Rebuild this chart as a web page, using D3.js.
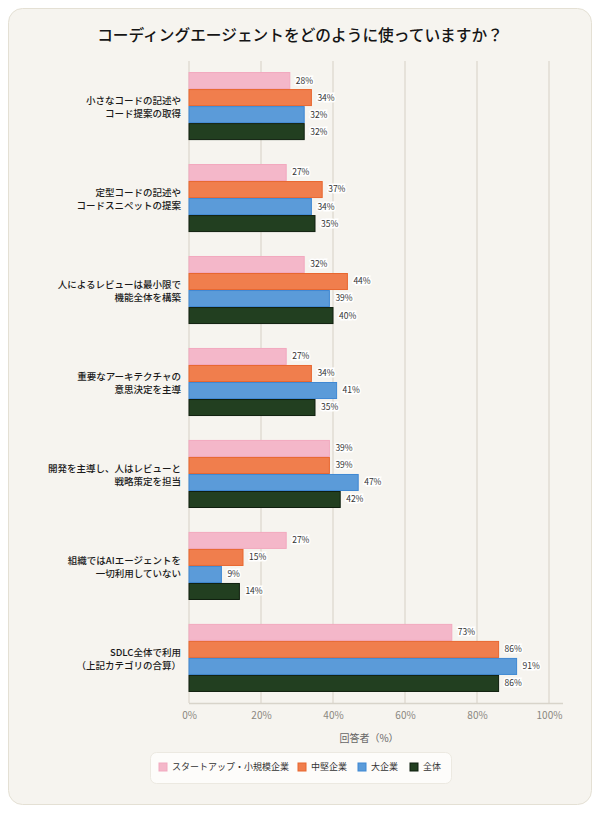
<!DOCTYPE html>
<html><head><meta charset="utf-8">
<script src="https://cdn.jsdelivr.net/npm/d3@7/dist/d3.min.js"></script>
<style>
html,body{margin:0;padding:0;background:#fff;}
svg{display:block;font-family:"Noto Sans CJK JP","Noto Sans",sans-serif;}
</style></head>
<body>
<script>
const categories = [
  ["小さなコードの記述や","コード提案の取得"],
  ["定型コードの記述や","コードスニペットの提案"],
  ["人によるレビューは最小限で","機能全体を構築"],
  ["重要なアーキテクチャの","意思決定を主導"],
  ["開発を主導し、人はレビューと","戦略策定を担当"],
  ["組織ではAIエージェントを","一切利用していない"],
  ["SDLC全体で利用","（上記カテゴリの合算）"]
];
const seriesNames = ["スタートアップ・小規模企業","中堅企業","大企業","全体"];
const startup = [28,27,32,27,39,27,73];
const midsize = [34,37,44,34,39,15,86];
const large = [32,34,39,41,47,9,91];
const overall = [32,35,40,35,42,14,86];
const xTicks = [0,20,40,60,80,100];
const title = "コーディングエージェントをどのように使っていますか？";
const xTitle = "回答者（%）";

const series = [startup, midsize, large, overall];
const fills = ["#f4b7c9","#f07e4d","#5b9bd9","#223f20"];
const strokes = ["#f2a9bf","#e8672f","#3f88d3","#0f1f0e"];

const W = 600, H = 813;
const svg = d3.select("body").append("svg").attr("width",W).attr("height",H);

svg.append("rect").attr("x",8.5).attr("y",8.5).attr("width",583).attr("height",796)
  .attr("rx",14).attr("fill","#f6f4ef").attr("stroke","#e4e0d4");

svg.append("text").attr("x",300).attr("y",41).attr("text-anchor","middle")
  .attr("font-size",15.7).attr("font-weight",500).attr("fill","#151515").text(title);

const x = d3.scaleLinear().domain([0,100]).range([189,549]);
const y = d3.scaleBand().domain(d3.range(categories.length)).range([61,703])
  .paddingInner(0.26).paddingOuter(0.12);
const yi = d3.scaleBand().domain(d3.range(series.length)).range([0,y.bandwidth()]);

// grid
svg.append("g").selectAll("line").data(xTicks).join("line")
  .attr("x1",d=>x(d)).attr("x2",d=>x(d)).attr("y1",61).attr("y2",703)
  .attr("stroke","#e0ddd3").attr("stroke-width",1.5);

// axis
const xAxis = d3.axisBottom(x).tickValues(xTicks).tickSize(0).tickPadding(9).tickFormat(d=>d+"%");
const ax = svg.append("g").attr("transform","translate(0,703)").call(xAxis);
ax.select(".domain").remove();
ax.selectAll("text").attr("font-size",10).attr("fill","#8a8780").attr("font-family","'Noto Sans CJK JP',sans-serif");
svg.append("line").attr("x1",189).attr("x2",563).attr("y1",703.5).attr("y2",703.5).attr("stroke","#d8d4ca").attr("stroke-width",1.5);

svg.append("text").attr("x",369).attr("y",742).attr("text-anchor","middle")
  .attr("font-size",10).attr("fill","#666").text(xTitle);

// bars
const groups = svg.append("g").selectAll("g").data(categories).join("g")
  .attr("transform",(d,i)=>`translate(0,${y(i)})`);
groups.each(function(c,ci){
  const g = d3.select(this);
  series.forEach((s,si)=>{
    g.append("rect").attr("x",x(0)).attr("y",yi(si)+0.5)
      .attr("width",x(s[ci])-x(0)).attr("height",yi.bandwidth()-1)
      .attr("fill",fills[si]).attr("stroke",strokes[si]).attr("stroke-width",1);
    g.append("text").attr("x",x(s[ci])+6).attr("y",yi(si)+yi.bandwidth()/2)
      .attr("dy","0.35em").attr("font-size",8.5).attr("fill","#333")
      .attr("stroke","#fff").attr("stroke-width",3).attr("paint-order","stroke")
      .text(s[ci]+"%");
  });
  const t = g.append("text").attr("text-anchor","end").attr("font-size",9.5)
    .attr("font-weight",500).attr("fill","#1a1a1a");
  c.forEach((line,li)=>{
    t.append("tspan").attr("x",181).attr("y",y.bandwidth()/2 + (li-0.5)*13.6 + 4.5).text(line);
  });
});

// legend
const lg = svg.append("g");
lg.append("rect").attr("x",150.5).attr("y",752.5).attr("width",301).attr("height",31)
  .attr("rx",6).attr("fill","#fdfcfa").attr("stroke","#ece9e1");
const legX = [159, 298, 358, 410];
seriesNames.forEach((n,i)=>{
  lg.append("rect").attr("x",legX[i]).attr("y",763).attr("width",8).attr("height",8)
    .attr("fill",fills[i]).attr("stroke",strokes[i]);
  lg.append("text").attr("x",legX[i]+13).attr("y",767).attr("dy","0.35em")
    .attr("font-size",9).attr("fill","#333").text(n);
});
</script>
</body></html>
